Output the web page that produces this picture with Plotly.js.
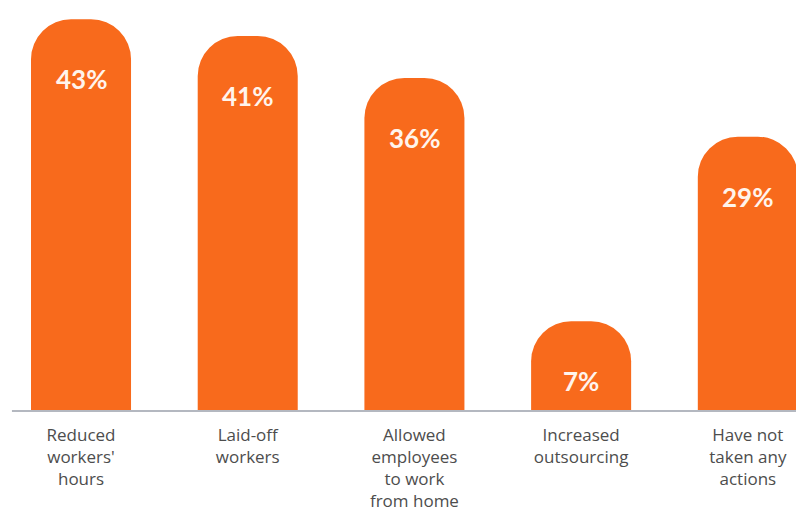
<!DOCTYPE html>
<html>
<head>
<meta charset="utf-8">
<script src="https://cdn.plot.ly/plotly-3.0.1.min.js"></script>
<style>html,body{margin:0;padding:0;background:#fff;}#chart{width:796px;height:511px;}</style>
</head>
<body>
<div id="chart"></div>
<script>
var categories = ["Reduced<br>workers'<br>hours", "Laid-off<br>workers", "Allowed<br>employees<br>to work<br>from home", "Increased<br>outsourcing", "Have not<br>taken any<br>actions"];
var values = [43, 41, 36, 7, 29];
var valueLabels = ["43%", "41%", "36%", "7%", "29%"];

// the rounded cap of each bar in the source adds a constant height
var capOffset = 3.7;
var barColor = "#F86A1C";

var trace = {
  type: "bar",
  x: categories,
  y: values.map(function(v){ return v + capOffset; }),
  width: 0.6,
  marker: { color: barColor, cornerradius: 40, line: { width: 0 } },
  hoverinfo: "skip"
};

var annotations = categories.map(function(c, i){
  return {
    x: c, y: values[i] + capOffset, xref: "x", yref: "y",
    text: valueLabels[i], showarrow: false,
    yshift: -60, yanchor: "middle",
    font: { family: "Lato, 'Open Sans', sans-serif", size: 26, color: "#FFF4EC", weight: 700 }
  };
});

var layout = {
  width: 796, height: 511,
  margin: { l: 0, r: 0, t: 0, b: 100 },
  paper_bgcolor: "#ffffff", plot_bgcolor: "#ffffff",
  showlegend: false,
  xaxis: {
    type: "category",
    range: [-0.486, 4.289],
    showgrid: false, zeroline: false, showline: false,
    ticks: "", ticklabelstandoff: 12,
    tickfont: { family: "'Open Sans', Lato, sans-serif", size: 17, color: "#4d4d4d" }
  },
  yaxis: {
    range: [0, 48.99],
    showgrid: false, zeroline: false, showline: false, showticklabels: false, ticks: ""
  },
  shapes: [{
    type: "line", xref: "paper", yref: "paper", x0: 0.015, x1: 1, y0: 0, y1: 0,
    line: { color: "#B4B8C0", width: 2 }
  }],
  annotations: annotations
};

Plotly.newPlot("chart", [trace], layout, { displayModeBar: false, staticPlot: true });
</script>
</body>
</html>
